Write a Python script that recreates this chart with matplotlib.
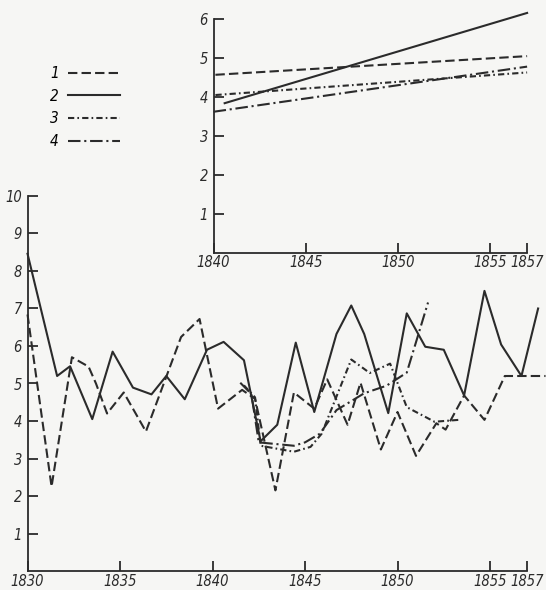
import matplotlib.pyplot as plt

# main chart, four series
years_1 = [1830.0, 1831.3, 1832.4, 1833.3, 1833.7, 1834.3, 1835.2, 1836.4, 1838.3, 1839.3,
           1840.3, 1841.6, 1842.3, 1843.4, 1844.4, 1845.5, 1846.2, 1847.3, 1848.0, 1849.1,
           1850.0, 1851.0, 1852.1, 1852.6, 1853.6, 1854.7, 1855.8, 1858.0]
values_1 = [6.84, 2.25, 5.70, 5.45, 5.00, 4.20, 4.76, 3.72, 6.24, 6.72,
            4.33, 4.83, 4.59, 2.15, 4.76, 4.33, 5.11, 3.90, 5.02, 3.24,
            4.24, 3.07, 3.94, 3.77, 4.68, 4.03, 5.20, 5.20]

years_2 = [1830.0, 1831.6, 1832.3, 1833.5, 1834.6, 1835.7, 1836.7, 1837.5, 1838.5, 1839.7,
           1840.6, 1841.7, 1842.6, 1843.5, 1844.5, 1845.5, 1846.7, 1847.5, 1848.2, 1849.5,
           1850.5, 1851.5, 1852.5, 1853.6, 1854.7, 1855.6, 1856.7, 1857.6]
values_2 = [8.46, 5.20, 5.46, 4.05, 5.85, 4.89, 4.71, 5.20, 4.58, 5.90,
            6.11, 5.62, 3.46, 3.90, 6.09, 4.24, 6.32, 7.08, 6.32, 4.21,
            6.87, 5.98, 5.90, 4.68, 7.47, 6.04, 5.20, 7.00]

years_3 = [1841.7, 1842.3, 1842.6, 1844.4, 1845.3, 1845.9, 1847.5, 1848.5, 1849.6, 1850.5,
           1852.0, 1853.3]
values_3 = [4.95, 4.63, 3.34, 3.18, 3.31, 3.66, 5.64, 5.28, 5.53, 4.37,
            3.98, 4.03]

years_4 = [1841.5, 1842.1, 1842.5, 1844.4, 1845.0, 1845.8, 1846.7, 1848.2, 1849.4, 1850.5,
           1851.65]
values_4 = [5.02, 4.72, 3.43, 3.34, 3.43, 3.66, 4.29, 4.74, 4.94, 5.29,
            7.16]

# inset: trend lines 1840-1857
trend_years_1 = [1840.1, 1857.0]
trend_values_1 = [4.57, 5.05]
trend_years_2 = [1840.6, 1857.0]
trend_values_2 = [3.84, 6.16]
trend_years_3 = [1840.1, 1857.0]
trend_values_3 = [4.05, 4.63]
trend_years_4 = [1840.0, 1857.0]
trend_values_4 = [3.62, 4.78]

main_xticks = [1830, 1835, 1840, 1845, 1850, 1855, 1857]
main_yticks = [1, 2, 3, 4, 5, 6, 7, 8, 9, 10]
inset_xticks = [1840, 1845, 1850, 1855, 1857]
inset_yticks = [1, 2, 3, 4, 5, 6]
labels = ['1', '2', '3', '4']

ink = '#2b2b2b'
paper = '#f6f6f4'
dash = {
    '1': (0, (4.5, 2.0)),
    '2': '-',
    '3': (0, (3.0, 1.5, 0.8, 1.5)),
    '4': (0, (6.0, 1.8, 1.0, 1.8)),
}

plt.rcParams['font.family'] = ['DejaVu Sans']
plt.rcParams['font.stretch'] = 'condensed'
plt.rcParams['font.style'] = 'italic'
plt.rcParams['font.size'] = 10.5

fig = plt.figure(figsize=(5.46, 5.90), dpi=100, facecolor=paper)
# main axes: x axis line ~571 px from top, value 10 at ~196 px, 1857 tick at ~527 px
ax = fig.add_axes([0.0504, 0.0322, 0.9487, 0.6356])
ins = fig.add_axes([0.3912, 0.5719, 0.5877, 0.4154])


def style_axes(a, xticks, yticks, xlim, ylim):
    a.set_facecolor('none')
    a.set_xlim(*xlim)
    a.set_ylim(*ylim)
    a.set_xticks(xticks)
    a.set_yticks(yticks)
    a.set_xticklabels([str(t) for t in xticks])
    a.set_yticklabels([str(t) for t in yticks])
    for s in ['top', 'right']:
        a.spines[s].set_visible(False)
    for s in ['left', 'bottom']:
        a.spines[s].set_color(ink)
        a.spines[s].set_linewidth(1.3)
    a.spines['left'].set_bounds(0, yticks[-1])
    a.spines['bottom'].set_bounds(xticks[0], xticks[-1])
    a.tick_params(direction='in', length=7, width=1.3, color=ink, labelcolor=ink)
    a.tick_params(axis='y', pad=4)
    a.tick_params(axis='x', pad=2)


all_series = [(years_1, values_1), (years_2, values_2), (years_3, values_3), (years_4, values_4)]
for lab, (x, y) in zip(labels, all_series):
    ax.plot(x, y, color=ink, lw=1.5, linestyle=dash[lab], clip_on=False)

trends = [(trend_years_1, trend_values_1), (trend_years_2, trend_values_2),
          (trend_years_3, trend_values_3), (trend_years_4, trend_values_4)]
handles = []
for lab, (x, y) in zip(labels, trends):
    h, = ins.plot(x, y, color=ink, lw=1.5, linestyle=dash[lab], clip_on=False)
    handles.append(h)

style_axes(ax, main_xticks, main_yticks, (1830, 1858.0), (0, 10))
style_axes(ins, inset_xticks, inset_yticks, (1840, 1857.4), (0, 6.3))

fig.legend(handles, labels, markerfirst=False, frameon=False, loc='upper left',
           bbox_to_anchor=(50 / 546, 1 - 66 / 590), handlelength=3.4, handletextpad=0.6,
           labelspacing=0.5, borderpad=0, borderaxespad=0, fontsize=11)

fig.savefig('out.png', dpi=100, facecolor=paper)
